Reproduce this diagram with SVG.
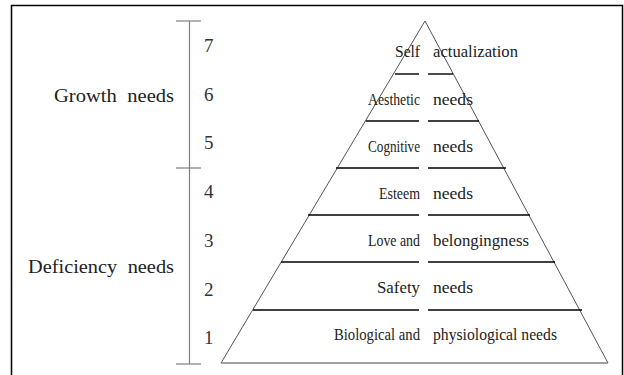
<svg xmlns="http://www.w3.org/2000/svg" width="624" height="375" viewBox="0 0 624 375">
  <style>
    .frame { fill: #fff; stroke: #000; stroke-width: 1.5; }
    .axis { stroke: #808080; stroke-width: 1.2; fill: none; }
    .side { stroke: #555; stroke-width: 1; fill: none; }
    .tier { stroke: #000; stroke-width: 1.4; fill: none; }
    .base { stroke: #808080; stroke-width: 1.4; fill: none; }
    text { font-family: "Liberation Serif", "Times New Roman", serif; fill: #222; }
    .lbl { font-size: 17px; }
    .grp { font-size: 19px; word-spacing: 5px; }
    .num { font-size: 19px; fill: #333; }
    .l { text-anchor: end; }
  </style>

  <!-- outer frame -->
  <rect class="frame" x="11.5" y="5.5" width="611" height="380"/>

  <!-- scale axis with ticks -->
  <g id="axis">
    <line class="axis" x1="189.5" y1="21" x2="189.5" y2="364"/>
    <line class="axis" x1="176" y1="21" x2="201" y2="21"/>
    <line class="axis" x1="176" y1="168" x2="201" y2="168"/>
    <line class="axis" x1="176" y1="364" x2="201" y2="364"/>
  </g>

  <!-- level numbers -->
  <g id="numbers">
    <text class="num" x="204" y="52">7</text>
    <text class="num" x="204" y="101">6</text>
    <text class="num" x="204" y="149">5</text>
    <text class="num" x="204" y="198">4</text>
    <text class="num" x="204" y="247">3</text>
    <text class="num" x="204" y="296">2</text>
    <text class="num" x="204" y="344">1</text>
  </g>

  <!-- group labels -->
  <g id="growth">
    <text class="grp" x="54" y="101.5" textLength="120" lengthAdjust="spacingAndGlyphs">Growth needs</text>
  </g>
  <g id="deficiency">
    <text class="grp" x="28" y="272.5" textLength="146" lengthAdjust="spacingAndGlyphs">Deficiency needs</text>
  </g>

  <!-- pyramid outline -->
  <g id="pyramid">
    <line class="side" x1="425" y1="21" x2="221" y2="363"/>
    <line class="side" x1="425" y1="21" x2="608" y2="363"/>
    <line class="base" x1="221" y1="363" x2="608" y2="363"/>
  </g>

  <!-- tier dividers (split in the middle) -->
  <g id="dividers">
    <line class="tier" x1="395" y1="74" x2="419" y2="74"/>
    <line class="tier" x1="428" y1="74" x2="453" y2="74"/>
    <line class="tier" x1="366" y1="121" x2="419" y2="121"/>
    <line class="tier" x1="428" y1="121" x2="479" y2="121"/>
    <line class="tier" x1="336" y1="168" x2="419" y2="168"/>
    <line class="tier" x1="428" y1="168" x2="506" y2="168"/>
    <line class="tier" x1="308" y1="215" x2="419" y2="215"/>
    <line class="tier" x1="428" y1="215" x2="530" y2="215"/>
    <line class="tier" x1="281" y1="262" x2="419" y2="262"/>
    <line class="tier" x1="428" y1="262" x2="555" y2="262"/>
    <line class="tier" x1="253" y1="310" x2="419" y2="310"/>
    <line class="tier" x1="428" y1="310" x2="582" y2="310"/>
  </g>

  <!-- tier labels -->
  <g id="tier7">
    <text class="lbl l" x="420" y="57" textLength="25" lengthAdjust="spacingAndGlyphs">Self</text>
    <text class="lbl" x="433" y="57" textLength="85" lengthAdjust="spacingAndGlyphs">actualization</text>
  </g>
  <g id="tier6">
    <text class="lbl l" x="420" y="105" textLength="52" lengthAdjust="spacingAndGlyphs">Aesthetic</text>
    <text class="lbl" x="433" y="105" textLength="40" lengthAdjust="spacingAndGlyphs">needs</text>
  </g>
  <g id="tier5">
    <text class="lbl l" x="420" y="152" textLength="52" lengthAdjust="spacingAndGlyphs">Cognitive</text>
    <text class="lbl" x="433" y="152" textLength="40" lengthAdjust="spacingAndGlyphs">needs</text>
  </g>
  <g id="tier4">
    <text class="lbl l" x="420" y="199" textLength="41" lengthAdjust="spacingAndGlyphs">Esteem</text>
    <text class="lbl" x="433" y="199" textLength="40" lengthAdjust="spacingAndGlyphs">needs</text>
  </g>
  <g id="tier3">
    <text class="lbl l" x="420" y="246" textLength="52" lengthAdjust="spacingAndGlyphs">Love and</text>
    <text class="lbl" x="433" y="246" textLength="96" lengthAdjust="spacingAndGlyphs">belongingness</text>
  </g>
  <g id="tier2">
    <text class="lbl l" x="420" y="293" textLength="43" lengthAdjust="spacingAndGlyphs">Safety</text>
    <text class="lbl" x="433" y="293" textLength="40" lengthAdjust="spacingAndGlyphs">needs</text>
  </g>
  <g id="tier1">
    <text class="lbl l" x="420" y="340" textLength="86" lengthAdjust="spacingAndGlyphs">Biological and</text>
    <text class="lbl" x="433" y="340" textLength="124" lengthAdjust="spacingAndGlyphs">physiological needs</text>
  </g>
</svg>
